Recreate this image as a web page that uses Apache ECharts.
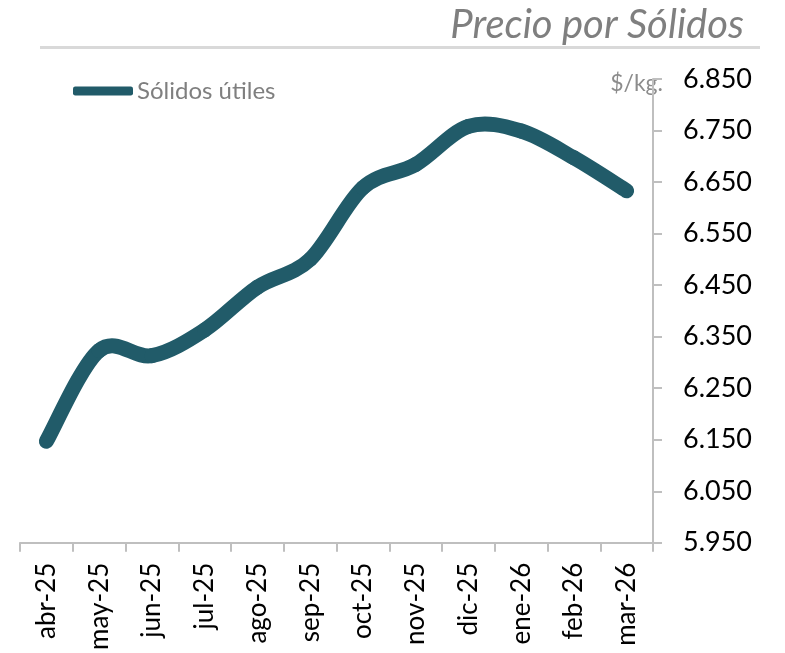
<!DOCTYPE html>
<html>
<head>
<meta charset="utf-8">
<script src="https://cdn.jsdelivr.net/npm/echarts@6/dist/echarts.min.js"></script>
<style>
  html, body { margin: 0; padding: 0; background: #fff; }
  #chart { width: 785px; height: 653px; }
</style>
</head>
<body>
<div id="chart"></div>
<script>
// datos (precio $/kg)
const meses = ['abr-25', 'may-25', 'jun-25', 'jul-25', 'ago-25', 'sep-25', 'oct-25', 'nov-25', 'dic-25', 'ene-26', 'feb-26', 'mar-26']
const solidosUtiles = [6147, 6323, 6313, 6363, 6446, 6500, 6639, 6684, 6758, 6749, 6697, 6633]

const FONT = 'Lato, "Noto Sans", sans-serif'
const COLOR = '#215b69'
const chart = echarts.init(document.getElementById('chart'))

// curva suavizada tipo Excel (catmull-rom), usando las coordenadas del eje
function renderSegment(params, api) {
  const i = params.dataIndex
  const n = solidosUtiles.length
  if (i >= n - 1) return null
  const p = k => api.coord([Math.max(0, Math.min(n - 1, k)), solidosUtiles[Math.max(0, Math.min(n - 1, k))]])
  const p0 = p(i - 1), p1 = p(i), p2 = p(i + 1), p3 = p(i + 2)
  const c1 = [p1[0] + (p2[0] - p0[0]) / 6, p1[1] + (p2[1] - p0[1]) / 6]
  const c2 = [p2[0] - (p3[0] - p1[0]) / 6, p2[1] - (p3[1] - p1[1]) / 6]
  return {
    type: 'path',
    shape: {
      pathData: `M${p1[0]} ${p1[1]} C${c1[0]} ${c1[1]} ${c2[0]} ${c2[1]} ${p2[0]} ${p2[1]}`
    },
    style: { fill: null, stroke: COLOR, lineWidth: 15, lineCap: 'round', lineJoin: 'round' }
  }
}

chart.setOption({
  animation: false,
  backgroundColor: '#fff',
  title: {
    text: 'Precio por Sólidos',
    right: 36,
    top: 0,
    textStyle: { fontFamily: FONT, fontStyle: 'italic', fontWeight: 'normal', fontSize: 40, color: '#7f7f7f' }
  },
  legend: {
    left: 68,
    top: 74,
    icon: 'roundRect',
    itemWidth: 60,
    itemHeight: 9,
    itemGap: 4,
    textStyle: { fontFamily: FONT, fontSize: 24, color: '#7f7f7f', padding: [0, 0, 0, -1] },
    data: [{ name: 'Sólidos útiles', itemStyle: { color: COLOR } }]
  },
  graphic: [
    // linea bajo el titulo
    { type: 'rect', shape: { x: 40, y: 46, width: 720, height: 3 }, style: { fill: '#d9d9d9' } },
    { type: 'text', x: 663, y: 84, style: { text: '$/kg.', fontFamily: FONT, fontSize: 23, fill: '#8c8c8c', textAlign: 'right', textVerticalAlign: 'middle' } }
  ],
  grid: { left: 20, right: 132, top: 79, bottom: 108 },
  xAxis: {
    type: 'category',
    data: meses,
    boundaryGap: true,
    axisLine: { lineStyle: { color: '#bfbfbf', width: 2 } },
    axisTick: { show: true, length: 9, lineStyle: { color: '#bfbfbf', width: 2 } },
    axisLabel: { rotate: 90, margin: 20, fontFamily: FONT, fontSize: 26, color: '#000', interval: 0 }
  },
  yAxis: {
    type: 'value',
    position: 'right',
    min: 5950,
    max: 6850,
    interval: 100,
    splitLine: { show: false },
    axisLine: { show: true, lineStyle: { color: '#bfbfbf', width: 2 } },
    axisTick: { show: true, length: 9, lineStyle: { color: '#bfbfbf', width: 2 } },
    axisLabel: {
      margin: 30,
      fontFamily: FONT,
      fontSize: 27,
      color: '#000',
      formatter: v => (v / 1000).toFixed(3)
    }
  },
  series: [
    {
      name: 'Sólidos útiles',
      type: 'custom',
      coordinateSystem: 'cartesian2d',
      data: solidosUtiles.map((v, i) => [i, v]),
      encode: { x: 0, y: 1 },
      itemStyle: { color: COLOR },
      renderItem: renderSegment
    }
  ]
})
</script>
</body>
</html>
